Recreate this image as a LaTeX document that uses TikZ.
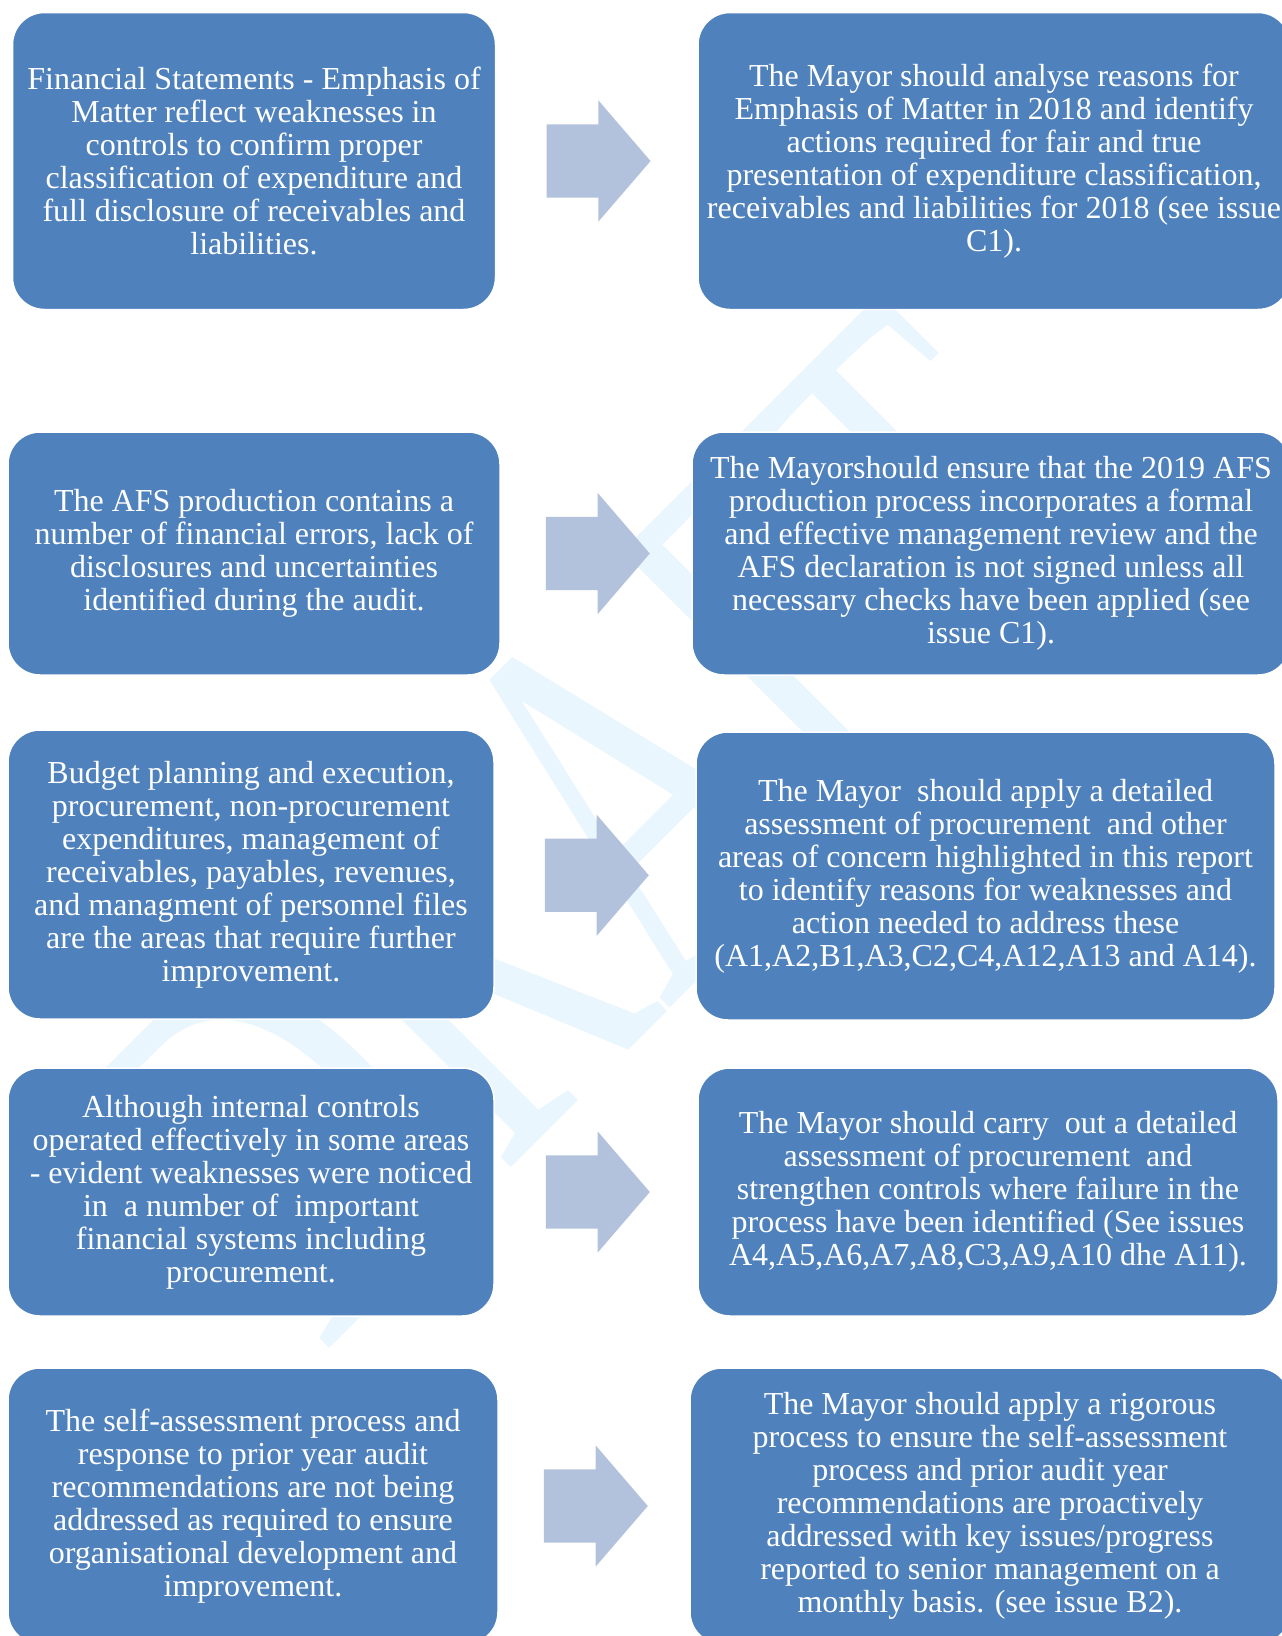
\documentclass[tikz,border=0pt]{standalone}
\usepackage{fontspec}
\setmainfont{Liberation Serif}
\usepackage{xcolor}
\usepackage{tikz}
\usetikzlibrary{shapes.arrows,calc}

\definecolor{boxblue}{HTML}{4F81BD}
\definecolor{arrowblue}{HTML}{B3C2DC}
\definecolor{markblue}{HTML}{E9F6FD}

\begin{document}
\begin{tikzpicture}[x=1pt, y=-1pt,
    finding/.style={draw=white, line width=1.5pt, fill=boxblue, rounded corners=32pt,
        text=white, align=center, inner sep=0pt, font=\fontsize{32}{33}\selectfont},
    shiftarrow/.style={single arrow, fill=arrowblue, draw=none, xshift=-14pt,
        inner xsep=0pt, inner ysep=36.5pt, minimum height=104pt,
        single arrow head extend=24pt, single arrow tip angle=98.6}]
    \useasboundingbox (0,0) rectangle (1282,1636);
    \clip (0,0) rectangle (1282,1636);
    % Watermark
    \node[text=markblue, rotate=45, xscale=0.645, inner sep=0pt,
        font=\fontsize{544}{544}\selectfont] (mark) at (603,822) {DRAFT};
    % Row 1: emphasis of matter
    \node[finding, minimum width=483pt, minimum height=297pt] (find1) at (254,161)
        {Financial Statements - Emphasis of\\ Matter reflect weaknesses in\\ controls to confirm proper\\
         classification of expenditure and\\ full disclosure of receivables and\\ liabilities.};
    \node[finding, minimum width=592pt, minimum height=297pt] (act1) at (994,161)
        {The Mayor should analyse reasons for\\ Emphasis of Matter in 2018 and identify\\
         actions required for fair and true\\ presentation of expenditure classification,\\
         receivables and liabilities for 2018 (see issue\\ C1).};
    \node[shiftarrow] (arr1) at ($(find1.east)!0.5!(act1.west)$) {};
    % Row 2: AFS production
    \node[finding, minimum width=492pt, minimum height=243pt] (find2) at (254,553.5)
        {The AFS production contains a\\ number of financial errors, lack of\\
         disclosures and uncertainties\\ identified during the audit.};
    \node[finding, minimum width=598pt, minimum height=243pt] (act2) at (991,553.5)
        {The Mayorshould ensure that the 2019 AFS\\ production process incorporates a formal\\
         and effective management review and the\\ AFS declaration is not signed unless all\\
         necessary checks have been applied (see\\ issue C1).};
    \node[shiftarrow] (arr2) at ($(find2.east)!0.5!(act2.west)$) {};
    % Row 3: areas for improvement
    \node[finding, minimum width=486pt, minimum height=289pt] (find3) at (251,874.5)
        {Budget planning and execution,\\ procurement, non-procurement\\ expenditures, management of\\
         receivables, payables, revenues,\\ and managment of personnel files\\
         are the areas that require further\\ improvement.};
    \node[finding, minimum width=579pt, minimum height=288pt] (act3) at (985.5,876)
        {The Mayor~ should apply a detailed\\ assessment of procurement~ and other\\
         areas of concern highlighted in this report\\ to identify reasons for weaknesses and\\
         action needed to address these\\ (A1,A2,B1,A3,C2,C4,A12,A13 and A14).};
    \node[shiftarrow] (arr3) at ($(find3.east)!0.5!(act3.west)$) {};
    % Row 4: internal controls
    \node[finding, minimum width=486pt, minimum height=248pt] (find4) at (251,1192)
        {Although internal controls\\ operated effectively in some areas\\
         - evident weaknesses were noticed\\ in~ a number of~ important\\
         financial systems including\\ procurement.};
    \node[finding, minimum width=580pt, minimum height=248pt] (act4) at (988,1192)
        {The Mayor should carry~ out a detailed\\ assessment of procurement~ and\\
         strengthen controls where failure in the\\ process have been identified (See issues\\
         A4,A5,A6,A7,A8,C3,A9,A10 dhe A11).};
    \node[shiftarrow] (arr4) at ($(find4.east)!0.5!(act4.west)$) {};
    % Row 5: self-assessment
    \node[finding, minimum width=490pt, minimum height=276pt] (find5) at (253,1506)
        {The self-assessment process and\\ response to prior year audit\\
         recommendations are not being\\ addressed as required to ensure\\
         organisational development and\\ improvement.};
    \node[finding, minimum width=600pt, minimum height=276pt] (act5) at (990,1506)
        {The Mayor should apply a rigorous\\ process to ensure the self-assessment\\
         process and prior audit year\\ recommendations are proactively\\
         addressed with key issues/progress\\ reported to senior management on a\\
         monthly basis. (see issue B2).};
    \node[shiftarrow] (arr5) at ($(find5.east)!0.5!(act5.west)$) {};
\end{tikzpicture}
\end{document}
